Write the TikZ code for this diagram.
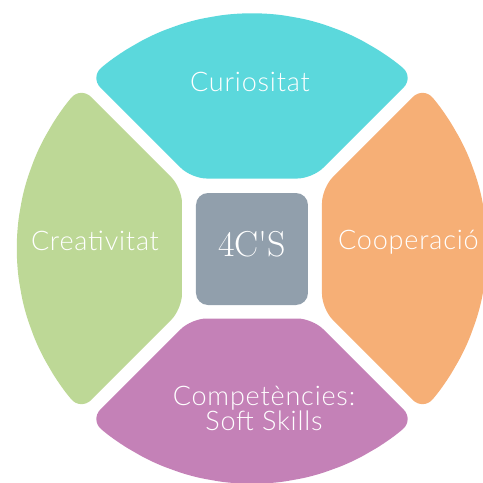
\documentclass[tikz,border=0pt]{standalone}
\usepackage{fontspec}
\newfontfamily\labelfont{Lato Light}[LetterSpace=3]
\usepackage{tikz}
\definecolor{curiocol}{HTML}{5BD8DC}
\definecolor{creacol}{HTML}{BDD896}
\definecolor{compcol}{HTML}{C481B7}
\definecolor{coopcol}{HTML}{F6AF76}
\definecolor{corecol}{HTML}{919FAC}
\tikzset{
    every node/.style={text=white, inner sep=0pt,
    	font=\labelfont\fontsize{27}{24.5}\selectfont}
}
\tikzset{
    segment/.style={rounded corners=15pt}
}

\begin{document}
\begin{tikzpicture}[x=1pt,y=1pt]
  \useasboundingbox (-252,-234.5) rectangle (231,248.5);
  \clip (-252,-234.5) rectangle (231,248.5);

  \foreach \rot/\col in {0/curiocol,90/creacol,180/compcol,270/coopcol}
    \fill[segment, \col, rotate=\rot] (0,70) -- (60.5,70) -- (46.6:236)
      \foreach \t in {55,65,...,125} { -- (\t:236) }
      -- (133.4:236) -- (-60.5,70) -- cycle;

  \node (core) [fill=corecol, rounded corners=12pt, minimum size=112pt,
    text depth=11pt, font=\fontsize{36}{36}\selectfont] at (0,-0.5)
    {4C\textquotesingle S};
  \node (curio) [anchor=base] at (-2,157.5) {Curiositat};
  \node (crea) [anchor=base] at (-157,-2) {Creativitat};
  \node (coop) [anchor=base west] at (86,-0.5) {Cooperació};
  \node (comp) [align=center] at (12,-160) {Competències:\\Soft Skills};
\end{tikzpicture}
\end{document}
